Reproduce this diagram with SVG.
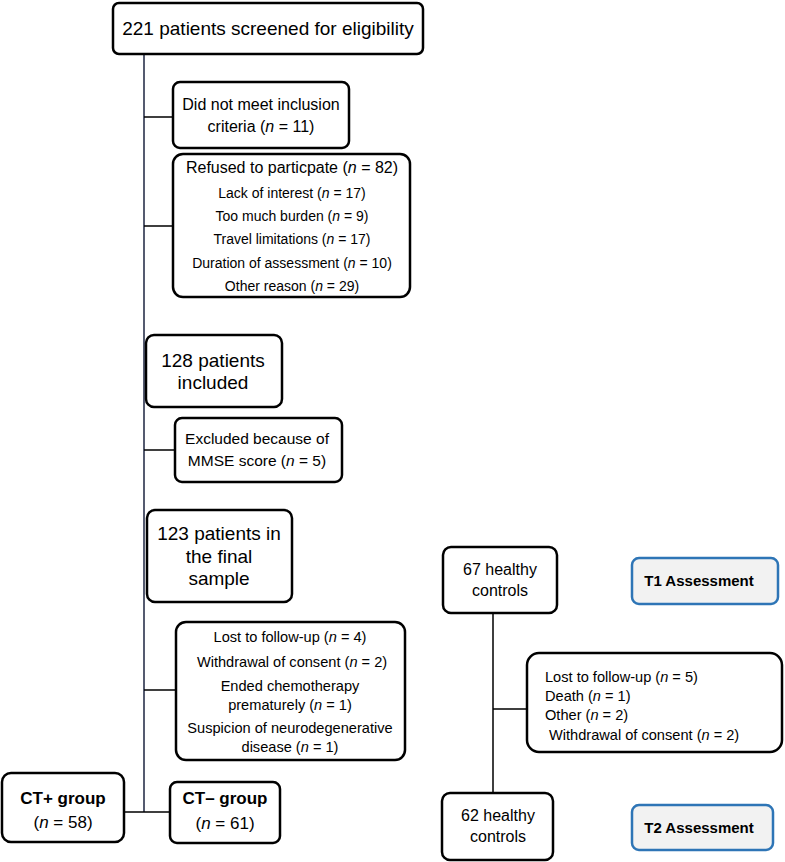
<svg xmlns="http://www.w3.org/2000/svg" width="785" height="862" viewBox="0 0 785 862">
<style>
.box{fill:#fff;stroke:#000;stroke-width:2.5}
.tbox{fill:#f2f2f2;stroke:#2e75b6;stroke-width:2.5}
.ln{stroke:#000;stroke-width:1.5;fill:none}
text{font-family:"Liberation Sans",Arial,sans-serif;fill:#000;text-anchor:middle}
.b{font-weight:bold}
.l{text-anchor:start}
</style>
<rect width="785" height="862" fill="#fff"/>
<g id="connectors">
<path class="ln" d="M144,54 V812" style="stroke:#1c2540"/>
<path class="ln" d="M144,117 H173 M144,226 H173 M144,450 H175 M144,690 H176 M124,812 H170"/>
<path class="ln" d="M493,613 V793 M493,709 H527"/>
</g>
<g id="n_screened">
<rect class="box" x="113" y="3" width="310" height="51" rx="6"/>
<text x="268" y="35" font-size="19">221 patients screened for eligibility</text>
</g>
<g id="n_notmeet">
<rect class="box" x="173" y="82" width="176" height="66" rx="7"/>
<text x="261" y="110" font-size="16">Did not meet inclusion</text>
<text x="261" y="132" font-size="16">criteria (<tspan font-style="italic">n</tspan> = 11)</text>
</g>
<g id="n_refused">
<rect class="box" x="173" y="154" width="237" height="143" rx="10"/>
<text x="292" y="173" font-size="16">Refused to particpate (<tspan font-style="italic">n</tspan> = 82)</text>
<text x="292" y="198" font-size="14">Lack of interest (<tspan font-style="italic">n</tspan> = 17)</text>
<text x="292" y="221" font-size="14">Too much burden (<tspan font-style="italic">n</tspan> = 9)</text>
<text x="292" y="244" font-size="14">Travel limitations (<tspan font-style="italic">n</tspan> = 17)</text>
<text x="292" y="268" font-size="14">Duration of assessment (<tspan font-style="italic">n</tspan> = 10)</text>
<text x="292" y="291" font-size="14">Other reason (<tspan font-style="italic">n</tspan> = 29)</text>
</g>
<g id="n_included">
<rect class="box" x="146" y="335" width="136" height="72" rx="8"/>
<text x="213" y="367" font-size="19">128 patients</text>
<text x="213" y="389" font-size="19">included</text>
</g>
<g id="n_mmse">
<rect class="box" x="175" y="418" width="167" height="64" rx="7"/>
<text x="257" y="444" font-size="15.5">Excluded because of</text>
<text x="257" y="466" font-size="15.5">MMSE score (<tspan font-style="italic">n</tspan> = 5)</text>
</g>
<g id="n_final">
<rect class="box" x="147" y="510" width="145" height="92" rx="8"/>
<text x="219" y="540" font-size="19">123 patients in</text>
<text x="219" y="563" font-size="19">the final</text>
<text x="219" y="585" font-size="19">sample</text>
</g>
<g id="n_lost">
<rect class="box" x="176" y="622" width="229" height="138" rx="10"/>
<text x="290" y="642" font-size="14.6">Lost to follow-up (<tspan font-style="italic">n</tspan> = 4)</text>
<text x="292" y="667" font-size="14.6">Withdrawal of consent (<tspan font-style="italic">n</tspan> = 2)</text>
<text x="290" y="691" font-size="14.6">Ended chemotherapy</text>
<text x="290" y="710" font-size="14.6">prematurely (<tspan font-style="italic">n</tspan> = 1)</text>
<text x="290" y="733" font-size="14.6">Suspicion of neurodegenerative</text>
<text x="290" y="752" font-size="14.6">disease (<tspan font-style="italic">n</tspan> = 1)</text>
</g>
<g id="n_ctplus">
<rect class="box" x="2" y="773" width="122" height="69" rx="9"/>
<text class="b" x="63" y="804" font-size="17">CT+ group</text>
<text x="63" y="828" font-size="17">(<tspan font-style="italic">n</tspan> = 58)</text>
</g>
<g id="n_ctminus">
<rect class="box" x="170" y="782" width="110" height="61" rx="7"/>
<text class="b" x="225" y="804" font-size="17">CT– group</text>
<text x="225" y="829" font-size="17">(<tspan font-style="italic">n</tspan> = 61)</text>
</g>
<g id="n_hc67">
<rect class="box" x="443" y="547" width="114" height="66" rx="8"/>
<text x="500" y="575" font-size="16">67 healthy</text>
<text x="500" y="596" font-size="16">controls</text>
</g>
<g id="n_hclost">
<rect class="box" x="527" y="653" width="255" height="99" rx="12"/>
<text class="l" x="545" y="682" font-size="14.6">Lost to follow-up (<tspan font-style="italic">n</tspan> = 5)</text>
<text class="l" x="545" y="701" font-size="14.6">Death (<tspan font-style="italic">n</tspan> = 1)</text>
<text class="l" x="545" y="720" font-size="14.6">Other (<tspan font-style="italic">n</tspan> = 2)</text>
<text class="l" x="549" y="740" font-size="14.6">Withdrawal of consent (<tspan font-style="italic">n</tspan> = 2)</text>
</g>
<g id="n_hc62">
<rect class="box" x="442" y="793" width="111" height="67" rx="8"/>
<text x="498" y="821" font-size="16">62 healthy</text>
<text x="498" y="842" font-size="16">controls</text>
</g>
<g id="n_t1">
<rect class="tbox" x="632" y="558" width="146" height="46" rx="7"/>
<text class="b" x="699" y="586" font-size="15">T1 Assessment</text>
</g>
<g id="n_t2">
<rect class="tbox" x="632" y="805" width="141" height="45" rx="7"/>
<text class="b" x="699" y="833" font-size="15">T2 Assessment</text>
</g>
</svg>
